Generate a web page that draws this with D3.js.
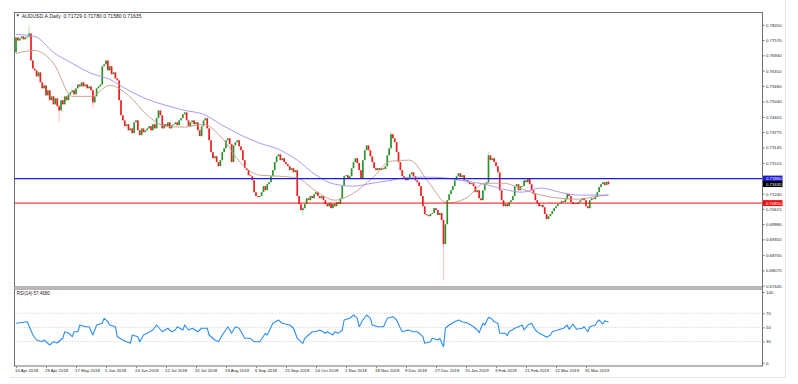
<!DOCTYPE html>
<html>
<head>
<meta charset="utf-8">
<script src="https://cdn.jsdelivr.net/npm/d3@7"></script>
<style>
  html, body { margin: 0; padding: 0; background: #fff; }
  svg { display: block; font-family: "Liberation Sans", Arial, sans-serif; }
</style>
</head>
<body>
<div id="chart"></div>
<script>
// daily closes, AUDUSD 10 Apr 2018 .. 12 Apr 2019
const closes = [
  0.7768,0.7755,0.7764,0.7772,0.7760,0.7768,0.7772,0.7784,0.7673,0.7640,
  0.7632,0.7607,0.7624,0.7583,0.7558,0.7570,0.7529,0.7550,0.7509,0.7525,
  0.7492,0.7517,0.7484,0.7467,0.7509,0.7492,0.7525,0.7509,0.7533,0.7542,
  0.7550,0.7533,0.7558,0.7574,0.7566,0.7583,0.7566,0.7574,0.7558,0.7566,
  0.7550,0.7500,0.7525,0.7558,0.7566,0.7574,0.7649,0.7657,0.7673,0.7632,
  0.7649,0.7616,0.7624,0.7599,0.7591,0.7509,0.7447,0.7426,0.7402,0.7410,
  0.7385,0.7393,0.7373,0.7418,0.7426,0.7385,0.7365,0.7393,0.7377,0.7385,
  0.7393,0.7402,0.7385,0.7410,0.7393,0.7435,0.7467,0.7447,0.7393,0.7410,
  0.7402,0.7418,0.7393,0.7406,0.7410,0.7418,0.7406,0.7426,0.7435,0.7451,
  0.7459,0.7426,0.7402,0.7418,0.7426,0.7410,0.7418,0.7385,0.7361,0.7402,
  0.7426,0.7435,0.7393,0.7344,0.7295,0.7270,0.7278,0.7254,0.7237,0.7262,
  0.7295,0.7311,0.7344,0.7352,0.7328,0.7254,0.7323,0.7336,0.7344,0.7319,
  0.7303,0.7262,0.7229,0.7221,0.7200,0.7196,0.7179,0.7130,0.7114,0.7110,
  0.7114,0.7130,0.7155,0.7138,0.7163,0.7171,0.7196,0.7221,0.7254,0.7278,
  0.7286,0.7262,0.7270,0.7254,0.7245,0.7237,0.7221,0.7229,0.7212,0.7221,
  0.7114,0.7081,0.7056,0.7064,0.7081,0.7105,0.7097,0.7114,0.7105,0.7122,
  0.7130,0.7114,0.7105,0.7114,0.7097,0.7081,0.7072,0.7085,0.7064,0.7081,
  0.7072,0.7089,0.7081,0.7105,0.7155,0.7196,0.7200,0.7188,0.7196,0.7229,
  0.7254,0.7270,0.7250,0.7221,0.7188,0.7262,0.7303,0.7323,0.7303,0.7278,
  0.7254,0.7229,0.7221,0.7229,0.7221,0.7229,0.7225,0.7237,0.7282,0.7311,
  0.7369,0.7352,0.7336,0.7295,0.7254,0.7221,0.7196,0.7188,0.7179,0.7188,
  0.7204,0.7212,0.7196,0.7179,0.7171,0.7155,0.7114,0.7072,0.7040,0.7036,
  0.7031,0.7040,0.7044,0.7064,0.7056,0.7036,0.7044,0.7015,0.6916,0.6998,
  0.7097,0.7122,0.7138,0.7155,0.7179,0.7196,0.7208,0.7192,0.7200,0.7179,
  0.7179,0.7171,0.7163,0.7167,0.7155,0.7130,0.7138,0.7105,0.7097,0.7138,
  0.7163,0.7171,0.7282,0.7262,0.7270,0.7254,0.7237,0.7212,0.7138,0.7097,
  0.7072,0.7081,0.7072,0.7089,0.7097,0.7114,0.7155,0.7163,0.7138,0.7155,
  0.7155,0.7179,0.7171,0.7184,0.7163,0.7138,0.7122,0.7097,0.7085,0.7072,
  0.7077,0.7068,0.7040,0.7019,0.7031,0.7040,0.7052,0.7064,0.7072,0.7081,
  0.7085,0.7093,0.7089,0.7101,0.7122,0.7114,0.7089,0.7081,0.7085,0.7081,
  0.7089,0.7097,0.7105,0.7097,0.7072,0.7064,0.7097,0.7105,0.7101,0.7110,
  0.7130,0.7151,0.7163,0.7171,0.7159,0.7173,0.71635
];
const firstOpen = 0.7706;

// the few wicks that stand out
const wickIdx  = [7,      23,     41,     153,    200,    228,    252,    316];
const wickHigh = [0.7817, 0.7492, 0.7555, 0.7070, 0.7381, 0.7020, 0.7297, 0.71780];
const wickLow  = [0.7766, 0.7418, 0.7478, 0.7035, 0.7305, 0.6768, 0.7165, 0.71580];

// moving averages, sampled every 10 bars
const maIdx  = [0,10,20,30,40,50,60,70,80,90,100,110,120,130,140,150,160,170,180,190,200,210,220,230,240,250,260,270,280,290,300,310,316];
const maSlow = [0.7780,0.7772,0.7706,0.7661,0.7620,0.7595,0.7550,0.7513,0.7488,0.7467,0.7451,0.7406,0.7365,0.7332,0.7307,0.7262,0.7200,0.7163,0.7155,0.7167,0.7179,0.7192,0.7192,0.7188,0.7175,0.7163,0.7142,0.7130,0.7147,0.7130,0.7118,0.7118,0.7118];
const maFast = [0.7702,0.7714,0.7661,0.7525,0.7525,0.7570,0.7529,0.7447,0.7402,0.7398,0.7410,0.7352,0.7249,0.7200,0.7196,0.7188,0.7134,0.7097,0.7126,0.7188,0.7258,0.7262,0.7171,0.7085,0.7105,0.7167,0.7167,0.7142,0.7118,0.7105,0.7101,0.7114,0.7118];

// RSI(14)
const rsiIdx = [0,6,9,11,14,15,18,20,22,25,26,28,30,31,33,34,37,39,41,43,46,47,49,50,53,54,57,59,61,62,65,66,68,70,73,75,78,81,83,85,86,89,90,92,94,97,99,102,103,106,108,110,113,115,117,119,122,125,127,130,133,134,137,140,142,146,148,150,153,154,156,158,160,162,165,166,169,170,172,174,175,178,180,182,183,185,187,189,190,193,196,198,201,203,205,206,209,212,214,217,218,221,222,225,226,228,229,231,234,236,238,241,244,246,247,249,250,252,254,255,257,258,261,262,263,266,268,270,271,273,275,277,279,281,283,285,286,289,292,294,295,297,299,302,303,305,306,309,310,311,313,314,316];
const rsiVals = [55.7,58.0,39.2,32.1,29.7,32.1,25.0,29.7,27.9,34.9,43.8,42.0,36.8,43.8,43.8,53.3,50.9,50.9,39.2,53.3,55.7,62.8,58.0,53.3,50.9,36.8,32.1,29.7,27.4,39.2,36.8,29.7,39.2,41.6,46.3,53.3,43.8,48.7,43.8,46.3,50.9,46.3,53.3,46.3,48.7,43.8,48.7,48.7,39.2,32.1,29.7,39.2,50.9,41.6,50.9,48.7,34.5,34.5,29.7,29.7,41.6,39.2,55.7,60.4,55.7,53.3,48.7,34.5,27.4,34.5,39.2,43.8,43.8,46.3,41.6,43.8,39.2,43.8,41.6,46.3,60.4,62.8,67.5,62.8,50.9,60.4,67.5,62.8,53.3,50.9,50.9,62.8,65.1,60.4,48.7,43.8,46.3,43.8,43.8,36.8,27.4,29.7,34.5,32.1,34.5,22.6,48.7,53.3,58.0,60.4,58.0,55.7,50.9,46.3,42.4,55.7,53.3,64.2,61.4,58.0,55.7,41.6,41.6,38.2,43.8,48.7,50.9,53.3,46.3,53.3,55.7,46.3,41.6,39.2,35.9,39.2,43.8,46.3,48.7,53.3,47.2,54.7,47.2,48.7,50.9,43.8,50.9,53.3,58.0,60.4,54.7,59.4,57.5];

const priceTicks = ["0.78200","0.77570","0.76940","0.76310","0.75680","0.75040","0.74405","0.73775","0.73145","0.72515","0.71875","0.71240","0.70615","0.69980","0.69355","0.68705","0.68075","0.67445"];
const dateTickIdx = [0,16,32,48,64,80,96,112,128,144,160,176,192,208,224,240,256,272,288,304];
const dateTickLabels = ["10 Apr 2018","29 Apr 2018","17 May 2018","5 Jun 2018","24 Jun 2018","12 Jul 2018","31 Jul 2018","19 Aug 2018","6 Sep 2018","25 Sep 2018","14 Oct 2018","1 Nov 2018","18 Nov 2018","9 Dec 2018","27 Dec 2018","15 Jan 2019","3 Feb 2019","21 Feb 2019","12 Mar 2019","31 Mar 2019"];
const rsiTicks = [100, 70, 50, 30, 0];
const rsiLevels = [70, 50, 30];

const levelBlue = 0.71860;
const levelRed = 0.70850;
const lastPrice = 0.71635;
const title = "AUDUSD.A,Daily  0.71729 0.71780 0.71580 0.71635";
const rsiTitle = "RSI(14) 57.4680";

(function() {
  'use strict';

  const W = 798, H = 384;
  const LEFT = 14.5, RIGHT = 762.5;
  const MAIN_TOP = 12.5, MAIN_BOT = 287;
  const RSI_TOP = 289, RSI_BOT = 366;
  const FS = 4.3;

  const UP = "#2c932c", DOWN = "#f01b1b";

  const svg = d3.select("#chart").append("svg")
    .attr("width", W).attr("height", H);

  const x = d3.scaleLinear().domain([0, 316]).range([16, 608.5]);
  const y = d3.scaleLinear().domain([0.67392, 0.78706]).range([MAIN_BOT, MAIN_TOP]);
  const ry = d3.scaleLinear().domain([0, 100]).range([362.7, 292]);

  // faint outer border
  svg.append("path")
    .attr("d", `M10,377.5 H785.5 V0`)
    .attr("fill", "none").attr("stroke", "#e6e6e6");

  // panels
  svg.append("rect")
    .attr("x", LEFT).attr("y", MAIN_TOP)
    .attr("width", RIGHT - LEFT).attr("height", MAIN_BOT - MAIN_TOP)
    .attr("fill", "#fff").attr("stroke", "#707070");
  svg.append("rect")
    .attr("x", LEFT).attr("y", RSI_TOP)
    .attr("width", RIGHT - LEFT).attr("height", RSI_BOT - RSI_TOP)
    .attr("fill", "#fff").attr("stroke", "#707070");

  // candles
  const bars = closes.map((c, i) => ({ i: i, o: i === 0 ? firstOpen : closes[i - 1], c: c }));
  const bw = 1.7;

  const wicks = wickIdx.map((d, k) => ({ i: d, hi: wickHigh[k], lo: wickLow[k] }));
  svg.append("g").selectAll("line")
    .data(wicks)
    .enter()
    .append("line")
      .attr("x1", d => x(d.i)).attr("x2", d => x(d.i))
      .attr("y1", d => y(d.hi)).attr("y2", d => y(d.lo))
      .attr("stroke", d => bars[d.i].c >= bars[d.i].o ? UP : DOWN)
      .attr("stroke-opacity", 0.35)
      .attr("stroke-width", 0.8);

  svg.append("g").selectAll("rect")
    .data(bars)
    .enter()
    .append("rect")
      .attr("x", d => x(d.i) - bw / 2)
      .attr("y", d => y(Math.max(d.o, d.c)))
      .attr("width", bw)
      .attr("height", d => Math.max(0.8, Math.abs(y(d.o) - y(d.c))))
      .attr("fill", d => d.c >= d.o ? UP : DOWN);

  // moving averages
  const maLine = d3.line()
    .x(d => x(d[0])).y(d => y(d[1]))
    .curve(d3.curveMonotoneX);

  svg.append("path")
    .datum(maIdx.map((d, k) => [d, maFast[k]]))
    .attr("d", maLine)
    .attr("fill", "none").attr("stroke", "#c79a86").attr("stroke-width", 0.9);

  svg.append("path")
    .datum(maIdx.map((d, k) => [d, maSlow[k]]))
    .attr("d", maLine)
    .attr("fill", "none").attr("stroke", "#a48cf2").attr("stroke-width", 0.9);

  // horizontal levels
  svg.append("line")
    .attr("x1", LEFT).attr("x2", RIGHT)
    .attr("y1", y(levelBlue)).attr("y2", y(levelBlue))
    .attr("stroke", "#1c1cd8").attr("stroke-width", 1.2);
  svg.append("line")
    .attr("x1", LEFT).attr("x2", RIGHT)
    .attr("y1", y(levelRed)).attr("y2", y(levelRed))
    .attr("stroke", "#ee1111").attr("stroke-width", 1);

  // price axis
  const yAxis = d3.axisRight(y)
    .tickValues(priceTicks.map(Number))
    .tickFormat((d, k) => priceTicks[k])
    .tickSize(2)
    .tickPadding(1.5);

  svg.append("g")
    .attr("id", "y-axis")
    .attr("transform", `translate(${RIGHT}, 0)`)
    .call(yAxis)
    .call(g => g.select(".domain").remove())
    .call(g => g.selectAll("line").attr("stroke", "#707070"))
    .call(g => g.selectAll("text").attr("font-size", FS).attr("fill", "#222"));

  // axis line running down both panels
  svg.append("line")
    .attr("x1", RIGHT).attr("x2", RIGHT)
    .attr("y1", MAIN_TOP).attr("y2", RSI_BOT)
    .attr("stroke", "#707070");

  // value boxes on the axis
  const boxes = [
    { v: levelBlue, bg: "#1c1cd8" },
    { v: lastPrice, bg: "#000" },
    { v: levelRed, bg: "#ee1111" }
  ];
  const bx = svg.append("g").selectAll("g")
    .data(boxes)
    .enter()
    .append("g")
      .attr("transform", d => `translate(${RIGHT + 0.5}, ${y(d.v)})`);
  bx.append("rect")
    .attr("x", 0).attr("y", -3).attr("width", 19.5).attr("height", 6)
    .attr("fill", d => d.bg);
  bx.append("text")
    .attr("x", 3).attr("y", 1.5)
    .attr("font-size", FS).attr("fill", "#fff")
    .text(d => d.v.toFixed(5));

  // RSI panel
  svg.append("g").selectAll("line")
    .data(rsiLevels)
    .enter()
    .append("line")
      .attr("x1", LEFT).attr("x2", RIGHT)
      .attr("y1", d => ry(d)).attr("y2", d => ry(d))
      .attr("stroke", "#c8c8c8").attr("stroke-width", 0.7)
      .attr("stroke-dasharray", "1.5,1.5");

  const rsiLine = d3.line()
    .x(d => x(d[0])).y(d => ry(d[1]));

  svg.append("path")
    .datum(rsiIdx.map((d, k) => [d, rsiVals[k]]))
    .attr("d", rsiLine)
    .attr("fill", "none").attr("stroke", "#2b8ff0").attr("stroke-width", 1.1)
    .attr("stroke-linejoin", "round");

  const rAxis = d3.axisRight(ry)
    .tickValues(rsiTicks)
    .tickSize(2)
    .tickPadding(1.5);

  svg.append("g")
    .attr("transform", `translate(${RIGHT}, 0)`)
    .call(rAxis)
    .call(g => g.select(".domain").remove())
    .call(g => g.selectAll("line").attr("stroke", "#707070"))
    .call(g => g.selectAll("text").attr("font-size", FS).attr("fill", "#222"));

  // date axis
  const xAxis = d3.axisBottom(x)
    .tickValues(dateTickIdx)
    .tickFormat((d, k) => dateTickLabels[k])
    .tickSize(2)
    .tickPadding(0.8);

  svg.append("g")
    .attr("id", "x-axis")
    .attr("transform", `translate(0, ${RSI_BOT})`)
    .call(xAxis)
    .call(g => g.select(".domain").remove())
    .call(g => g.selectAll("line").attr("stroke", "#909090"))
    .call(g => g.selectAll("text")
      .attr("font-size", FS).attr("fill", "#222")
      .attr("text-anchor", "start").attr("x", -1.5));

  // titles
  svg.append("path")
    .attr("d", "M16.3,14.6 L19.3,14.6 L17.8,16.6 Z")
    .attr("fill", "#222");
  svg.append("text")
    .attr("x", 21.7).attr("y", 17.6)
    .attr("font-size", 5.1).attr("fill", "#222")
    .attr("xml:space", "preserve")
    .text(title);

  svg.append("text")
    .attr("x", 16.7).attr("y", 294.8)
    .attr("font-size", 4.5).attr("fill", "#222")
    .text(rsiTitle);

})();
</script>
</body>
</html>
